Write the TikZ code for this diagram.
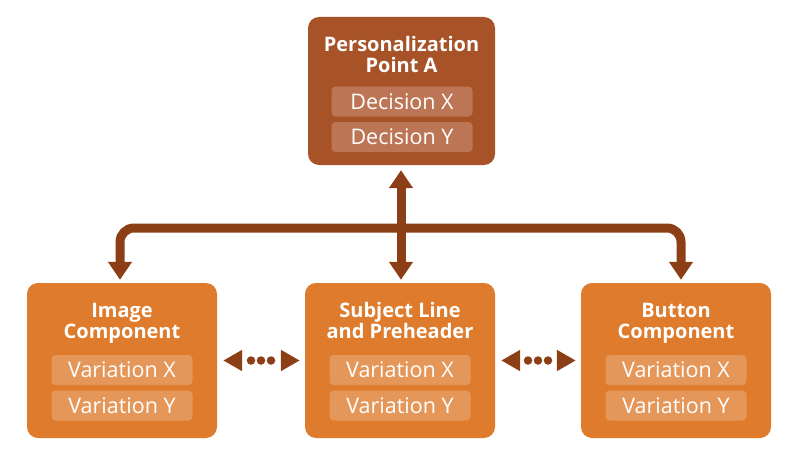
\documentclass[tikz,border=0pt]{standalone}
\usepackage{fontspec}
\setmainfont{Open Sans}
\usetikzlibrary{arrows.meta,calc}
\definecolor{topfill}{RGB}{168,82,40}
\definecolor{topinner}{RGB}{189,118,85}
\definecolor{botfill}{RGB}{222,123,44}
\definecolor{botinner}{RGB}{229,151,90}
\definecolor{arrowc}{RGB}{140,62,22}
\tikzset{
  outerbox/.style={rounded corners=11pt, minimum width=190pt, minimum height=155pt, inner sep=0pt},
  topbox/.style={outerbox, fill=topfill, minimum width=187pt, minimum height=148pt},
  botbox/.style={outerbox, fill=botfill},
  innerbox/.style={rounded corners=4pt, minimum width=141pt, minimum height=30pt, inner sep=0pt,
     text=white, font=\fontsize{21.5}{23}\selectfont},
  topinnerbox/.style={innerbox, fill=topinner},
  botinnerbox/.style={innerbox, fill=botinner},
  titletext/.style={text=white, align=center, inner sep=0pt, anchor=north,
     font=\fontsize{20}{21}\selectfont\bfseries},
  conn/.style={draw=arrowc, line width=9pt},
  bigtip/.tip={Triangle[width=23pt,length=18pt]},
  smalltip/.tip={Triangle[width=20pt,length=19pt]},
  dotc/.style={fill=arrowc, circle, minimum size=8.5pt, inner sep=0pt},
}
\begin{document}
\begin{tikzpicture}[x=1pt,y=-1pt]
\useasboundingbox (0,0) rectangle (800,452);
% boxes
\node[topbox] (top) at (401.5,91) {};
\node[botbox] (left) at (122,360.5) {};
\node[botbox] (mid) at (400,360.5) {};
\node[botbox] (right) at (676,360.5) {};
% titles
\node[titletext] (ttop) at (401.5,36.5) {Personalization\\Point A};
\node[titletext] (tleft) at (122,303) {Image\\Component};
\node[titletext] (tmid) at (400,302.5) {Subject Line\\and Preheader};
\node[titletext] (tright) at (676,303) {Button\\Component};
% inner boxes
\node[topinnerbox] (dx) at (402,101.5) {Decision X};
\node[topinnerbox] (dy) at (402,137) {Decision Y};
\node[botinnerbox] (lx) at (122,370) {Variation X};
\node[botinnerbox] (ly) at (122,405.5) {Variation Y};
\node[botinnerbox] (mx) at (400,370) {Variation X};
\node[botinnerbox] (my) at (400,405.5) {Variation Y};
\node[botinnerbox] (rx) at (676,370) {Variation X};
\node[botinnerbox] (ry) at (676,405.5) {Variation Y};
% connectors
\coordinate (jn) at (401,228);
\draw[conn, rounded corners=14pt, -{bigtip}] (jn) -| ([xshift=-2pt,yshift=3pt]left.north);
\draw[conn, rounded corners=14pt, -{bigtip}] (jn) -| ([xshift=5pt,yshift=3pt]right.north);
\draw[conn, {bigtip}-{bigtip}] ([xshift=-0.5pt,yshift=-5pt]top.south) -- ([xshift=1pt,yshift=3pt]mid.north);
% dotted links
\draw[conn, -{smalltip}] ([xshift=25pt]left.east) -- ([xshift=6pt]left.east);
\draw[conn, -{smalltip}] ([xshift=-24pt]mid.west) -- ([xshift=-5pt]mid.west);
\node[dotc] (d1) at ($(left.east)!0.5!(mid.west)+(-10,0)$) {};
\node[dotc] (d2) at ($(left.east)!0.5!(mid.west)$) {};
\node[dotc] (d3) at ($(left.east)!0.5!(mid.west)+(10,0)$) {};
\draw[conn, -{smalltip}] ([xshift=25pt]mid.east) -- ([xshift=6pt]mid.east);
\draw[conn, -{smalltip}] ([xshift=-24pt]right.west) -- ([xshift=-5pt]right.west);
\node[dotc] (d4) at ($(mid.east)!0.5!(right.west)+(-10,0)$) {};
\node[dotc] (d5) at ($(mid.east)!0.5!(right.west)$) {};
\node[dotc] (d6) at ($(mid.east)!0.5!(right.west)+(10,0)$) {};
\end{tikzpicture}
\end{document}
